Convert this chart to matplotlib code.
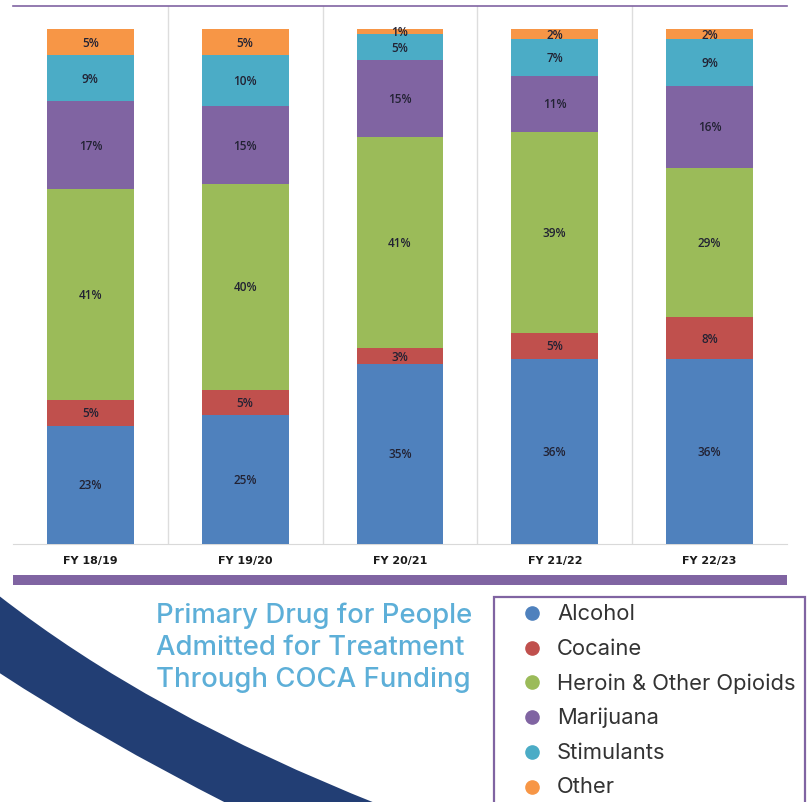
"""
Primary drug for people admitted for treatment through COCA funding,
stacked percentage bars by fiscal year.
"""

import matplotlib.pyplot as plt
import numpy as np
from matplotlib.patches import Rectangle, PathPatch
from matplotlib.path import Path
from matplotlib.lines import Line2D

# Data (percent of admissions)
years = ['FY 18/19', 'FY 19/20', 'FY 20/21', 'FY 21/22', 'FY 22/23']
drugs = ['Alcohol', 'Cocaine', 'Heroin & Other Opioids', 'Marijuana', 'Stimulants', 'Other']
alcohol = [23, 25, 35, 36, 36]
cocaine = [5, 5, 3, 5, 8]
heroin = [41, 40, 41, 39, 29]
marijuana = [17, 15, 15, 11, 16]
stimulants = [9, 10, 5, 7, 9]
other = [5, 5, 1, 2, 2]
series = [alcohol, cocaine, heroin, marijuana, stimulants, other]

colors = ['#4F81BD', '#C0504D', '#9BBB59', '#8064A2', '#4BACC6', '#F79646']
purple = '#8064A2'
title_blue = '#5DAFD8'
navy = '#223E74'

W, H = 809, 803


def fx(x):
    return x / W


def fy(y):
    return 1 - y / H


fig = plt.figure(figsize=(W / 100, H / 100), dpi=100)

# Background swoosh (decoration, figure pixel coordinates)
verts = [
    (fx(-2), fy(596)),
    (fx(150), fy(715)),
    (fx(380), fy(806)),
    (fx(230), fy(806)),
    (fx(100), fy(740)),
    (fx(-2), fy(673)),
    (fx(-2), fy(596)),
]
codes = [Path.MOVETO, Path.CURVE3, Path.CURVE3, Path.LINETO,
         Path.CURVE3, Path.CURVE3, Path.CLOSEPOLY]
fig.patches.append(PathPatch(Path(verts, codes), transform=fig.transFigure,
                             facecolor=navy, edgecolor='none'))

# Chart
ax = fig.add_axes([fx(13), fy(545), (787 - 13) / W, (545 - 7) / H])
x_pos = np.arange(len(years))
bottom = np.zeros(len(years))
for vals, col in zip(series, colors):
    vals = np.array(vals, dtype=float)
    bars = ax.bar(x_pos, vals, 0.56, bottom=bottom, color=col, edgecolor='none', zorder=3)
    for bar, v, b in zip(bars, vals, bottom):
        ax.text(bar.get_x() + bar.get_width() / 2, b + v / 2, f'{v:.0f}%',
                ha='center', va='center', fontsize=8.5, fontweight='semibold',
                color='#222233', family='Open Sans', zorder=4)
    bottom += vals

ax.set_xlim(-0.5, len(years) - 0.5)
ax.set_ylim(0, 104.5)
ax.set_yticks([])
ax.set_xticks(x_pos)
ax.set_xticklabels(years, fontsize=8, fontweight='bold', color='#1a1a1a')
ax.tick_params(axis='x', length=0, pad=8)
ax.set_xticks(np.arange(0.5, len(years) - 1, 1), minor=True)
ax.tick_params(axis='x', which='minor', length=0)
ax.grid(True, which='minor', axis='x', color='#DDDDDD', linewidth=1, zorder=0)
ax.grid(False, which='major')
for side in ['left', 'right']:
    ax.spines[side].set_visible(False)
ax.spines['bottom'].set_color('#D9D9D9')
ax.spines['top'].set_color(purple)
ax.spines['top'].set_linewidth(1.2)

# Purple divider band
fig.patches.append(Rectangle((fx(13), fy(586)), 774 / W, 10 / H,
                             transform=fig.transFigure, facecolor=purple, edgecolor='none'))

# Title
title_lines = ['Primary Drug for People', 'Admitted for Treatment', 'Through COCA Funding']
for i, line in enumerate(title_lines):
    fig.text(fx(156), fy(623 + i * 32), line, fontsize=19.8, color=title_blue,
             family='Inter', fontweight='medium', ha='left', va='baseline')

# Legend box
fig.patches.append(Rectangle((fx(494), fy(810)), (805 - 494) / W, (810 - 598) / H,
                             transform=fig.transFigure, facecolor='white',
                             edgecolor=purple, linewidth=1.6))
for i, (name, col) in enumerate(zip(drugs, colors)):
    yy = 614 + i * 34.7
    fig.add_artist(Line2D([fx(532)], [fy(yy)], marker='o', markersize=9.5,
                          color=col, linestyle='none', transform=fig.transFigure))
    fig.text(fx(557), fy(yy), name, fontsize=15.8, color='#333333',
             family='Inter', ha='left', va='center')

plt.savefig('out.png', dpi=100)
plt.close()
